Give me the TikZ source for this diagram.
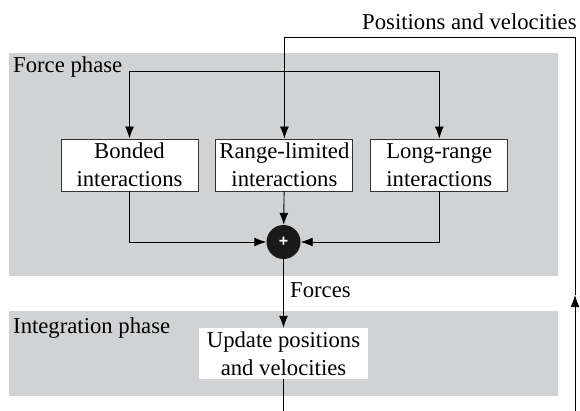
\documentclass[tikz,border=0pt]{standalone}
\usepackage{fontspec}
\setmainfont{Liberation Serif}
\setsansfont{Liberation Sans}
\usetikzlibrary{arrows.meta, positioning}
\definecolor{phasegray}{RGB}{209,210,212}
\tikzstyle{phase} = [fill=phasegray, draw=none]
\tikzstyle{phasetext} = [anchor=base west, inner sep=0pt]
\tikzstyle{box} = [rectangle, 
minimum width=137pt, 
minimum height=52pt, 
inner sep=0pt, 
align=center, 
draw=black!80, 
line width=0.9pt, 
fill=white]
\tikzstyle{updatebox} = [rectangle, 
minimum width=169pt, 
minimum height=51pt, 
inner sep=0pt, 
align=center, 
fill=white]
\tikzstyle{sum} = [circle, 
minimum size=34pt, 
inner sep=0pt, 
fill=black!90, 
text=white, 
font=\sffamily\bfseries\fontsize{16}{16}\selectfont]
\tikzstyle{arrow} = [line width=0.9pt,-{Latex[length=12pt,width=9pt]}]

\begin{document}
\begin{tikzpicture}[x=1pt, y=1pt, font=\fontsize{22.7}{28}\selectfont]
\useasboundingbox (0,0) rectangle (580,-411);
\clip (0,0) rectangle (580,-411);

% Phases
\fill [phase] (9,-53) rectangle (558,-276);
\fill [phase] (9,-311) rectangle (558,-396);
\node (forcetxt) [phasetext] at (13,-73) {Force phase};
\node (integtxt) [phasetext] at (13,-333) {Integration phase};

% Nodes
\node (bonded) [box] at (129.5,-165) {Bonded\\interactions};
\node (ranged) [box, right=17pt of bonded] {Range-limited\\interactions};
\node (longrange) [box, right=17pt of ranged] {Long-range\\interactions};
\node (sum) [sum] at (283.5,-242) {+};
\node (update) [updatebox] at (283.5,-353.5) {Update positions\\and velocities};
\node (posvel) [phasetext] at (362,-30) {Positions and velocities};
\node (forces) [phasetext] at (290,-298) {Forces};

\coordinate (fork) at (129.5,-71);
\coordinate (loopbl) at (283.5,-430);
\coordinate (loopbr) at (575,-430);
\coordinate (looptip) at (575,-295);
\coordinate (looptr) at (575,-37);

% Arrows
\draw [arrow] (fork) -- (bonded.north);
\draw [arrow] (fork) -| (longrange.north);
\draw [arrow] (bonded.south) |- (sum.west);
\draw [arrow] (longrange.south) |- (sum.east);
\draw [arrow] (ranged) -- (sum);
\draw [arrow] (sum) -- (update);
\draw [arrow] (update.south) -- (loopbl) -- (loopbr) -- (looptip);
\draw [arrow] (looptip) -- (looptr) -| (ranged.north);

\end{tikzpicture}
\end{document}
